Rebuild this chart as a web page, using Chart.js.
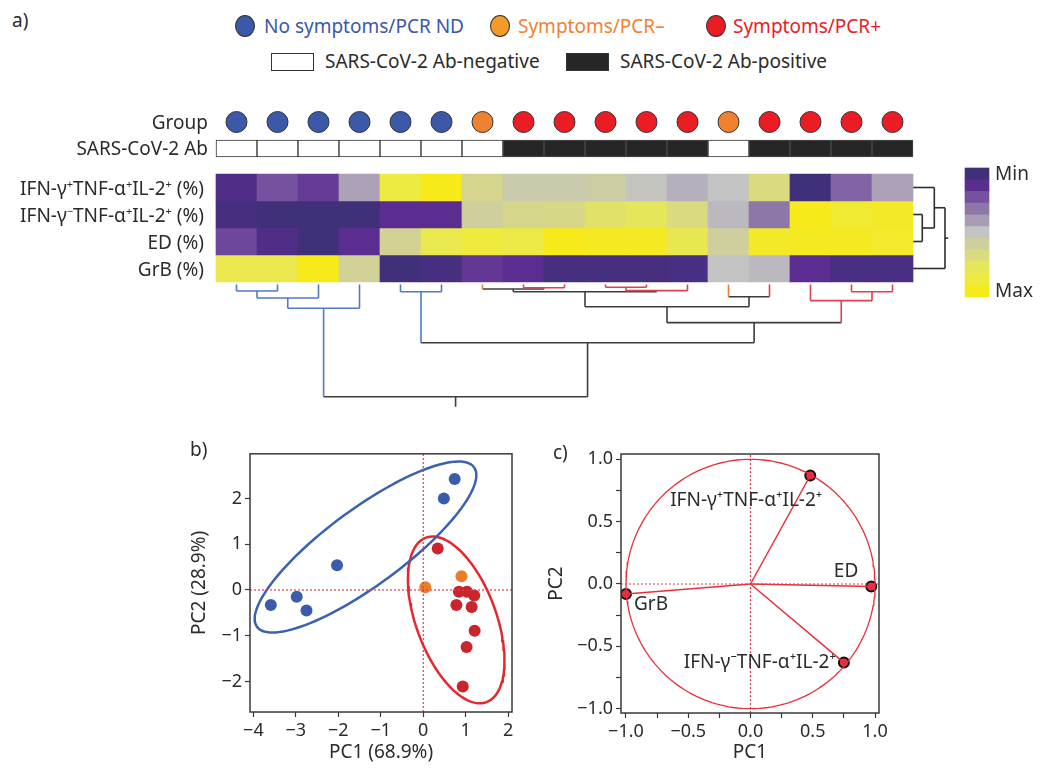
<!DOCTYPE html>
<html>
<head>
<meta charset="utf-8">
<script src="https://cdn.jsdelivr.net/npm/chart.js@4.4.1/dist/chart.umd.min.js"></script>
<style>
body { margin:0; background:#fff; width:1042px; height:769px; position:relative; overflow:hidden; font-family:'Noto Sans', sans-serif; color:#2b2b2b; }
canvas { position:absolute; }
.t { position:absolute; white-space:nowrap; font-size:19px; line-height:1; transform:translateY(-50%); }
.r { transform:translate(-100%,-50%); }
sup { font-size:11px; vertical-align:0; position:relative; top:-7px; }
.dot { position:absolute; width:20px; height:22px; border-radius:50%; border:1px solid #333; box-sizing:border-box; transform:translate(-50%,-50%); }
.box { position:absolute; border:1px solid #333; box-sizing:border-box; }
</style>
</head>
<body>
<canvas id="heat" width="1042" height="335" style="left:0;top:90px"></canvas>
<canvas id="pca" width="345" height="329" style="left:180px;top:440px"></canvas>
<canvas id="load" width="360" height="329" style="left:540px;top:440px"></canvas>

<div class="t" style="left:12px;top:20px">a)</div>
<div class="dot" style="left:245px;top:26px;background:#3c58a8"></div>
<div class="t" style="left:264px;top:26px;color:#3c58a8">No symptoms/PCR ND</div>
<div class="dot" style="left:500px;top:26px;background:#f39a2a"></div>
<div class="t" style="left:518px;top:26px;color:#f08232">Symptoms/PCR–</div>
<div class="dot" style="left:716px;top:26px;background:#ec1c24"></div>
<div class="t" style="left:733px;top:26px;color:#e8202a">Symptoms/PCR+</div>
<div class="box" style="left:271px;top:53px;width:43px;height:18px;background:#fff"></div>
<div class="t" style="left:325px;top:61px">SARS-CoV-2 Ab-negative</div>
<div class="box" style="left:566px;top:53px;width:43px;height:18px;background:#262626"></div>
<div class="t" style="left:620px;top:61px">SARS-CoV-2 Ab-positive</div>

<div class="t r" style="left:208px;top:122px">Group</div>
<div class="t r" style="left:208px;top:148px">SARS-CoV-2 Ab</div>
<div class="t r" style="left:204px;top:188px">IFN-γ<sup>+</sup>TNF-α<sup>+</sup>IL-2<sup>+</sup> (%)</div>
<div class="t r" style="left:204px;top:215px">IFN-γ<sup>−</sup>TNF-α<sup>+</sup>IL-2<sup>+</sup> (%)</div>
<div class="t r" style="left:204px;top:242px">ED (%)</div>
<div class="t r" style="left:204px;top:269px">GrB (%)</div>
<div class="t" style="left:995px;top:173px">Min</div>
<div class="t" style="left:995px;top:290px">Max</div>

<div class="t" style="left:190px;top:449px">b)</div>
<div class="t" style="left:553px;top:452px">c)</div>

<script>
// ---------- data ----------
// one entry per column of the heatmap, in dendrogram order
const groups = ['nd','nd','nd','nd','nd','nd','neg','pos','pos','pos','pos','pos','neg','pos','pos','pos','pos'];
const abPositive = [0,0,0,0,0,0,0,1,1,1,1,1,0,1,1,1,1];

// scaled levels, 0 = min, 10 = max
const ifnPosLevel = [0.6, 2, 1.4, 4.1, 8.9, 10, 6.5, 5.6, 5.6, 5.8, 5.1, 4.5, 5, 7, 0, 2.5, 4.1];
const ifnNegLevel = [0.2, 0, 0, 0, 1, 1, 6, 6.6, 6.7, 7.6, 8, 7, 4.7, 3, 10, 9.3, 9.6];
const edLevel     = [1.7, 0.6, 0, 1, 6.3, 8.4, 9, 8.7, 10, 9.8, 9.8, 8.3, 6, 9.6, 9.8, 9.8, 9.5];
const grbLevel    = [8.5, 8.5, 10, 6.2, 0, 0.2, 1.3, 1, 0.2, 0.2, 0.2, 0.3, 5, 4.7, 1, 0.3, 0.3];

// linkage [left, right, height]; ids >= leaf count point to earlier merges
const colMerges = [
  [0, 1, 0.058], [17, 2, 0.12], [18, 3, 0.212], [4, 5, 0.064],
  [7, 8, 0.029], [6, 21, 0.04], [9, 10, 0.025], [23, 11, 0.055],
  [22, 24, 0.064], [12, 13, 0.109], [25, 26, 0.198], [15, 16, 0.064],
  [14, 28, 0.144], [27, 29, 0.34], [20, 30, 0.519], [19, 31, 1.0]
];
const rowMerges = [[1, 2, 0.29], [0, 4, 0.666], [5, 3, 1.0]];

// PCA scores (PC1, PC2)
const pcaNd  = [[0.74, 2.43], [0.485, 2.0], [-2.03, 0.54], [-2.98, -0.15], [-2.75, -0.45], [-3.59, -0.33]];
const pcaNeg = [[0.05, 0.06], [0.9, 0.30]];
const pcaPos = [[0.34, 0.91], [0.84, -0.04], [1.03, -0.04], [1.2, -0.12], [0.78, -0.33], [1.14, -0.37], [1.21, -0.89], [1.02, -1.25], [0.93, -2.11]];
// group ellipses: centre and two conjugate semi-axes
const ellipseNd  = [[-1.36, 0.94], [2.553, 1.749], [0.544, -0.666]];
const ellipsePos = [[0.776, -0.655], [0.708, -1.801], [0.890, 0.294]];

// loadings
const loadNames = ['IFN-γ⁺TNF-α⁺IL-2⁺', 'ED', 'GrB', 'IFN-γ⁻TNF-α⁺IL-2⁺'];
const loadPC1 = [0.48, 0.97, -1.0, 0.75];
const loadPC2 = [0.87, -0.02, -0.08, -0.63];

// ---------- styles ----------
const palette = ['#40307a','#5b2d90','#7651a0','#8d76a8','#a99db6','#c3c3c3','#cfcf9e','#dada7e','#e6e65a','#eeea3e','#f7e91a'];
const groupFill = { nd: '#3c58a8', neg: '#ee8230', pos: '#ec1c24' };
const dendroColor = { nd: '#5179c4', neg: '#ee8030', pos: '#e0404c', mixed: '#3d3d3d' };
const pcaColor = { nd: '#3a5cab', neg: '#ea7d2c', pos: '#c9252c' };

Chart.defaults.font.family = "'Noto Sans', sans-serif";
Chart.defaults.color = '#2b2b2b';

function hex(c) { return [1, 3, 5].map(k => parseInt(c.substr(k, 2), 16)); }
function heatColor(v) {
  const i = Math.min(palette.length - 2, Math.floor(v)), f = v - i;
  const a = hex(palette[i]), b = hex(palette[i + 1]);
  return 'rgb(' + a.map((x, k) => Math.round(x + (b[k] - x) * f)).join(',') + ')';
}

// ---------- panel a ----------
const HEAT_LEFT = 216, CELL_W = 41, HEAT_TOP = 174, CELL_H = 27, CANVAS_TOP = 90;
const px2x = p => (p - HEAT_LEFT) / CELL_W;
const py2y = p => (p - HEAT_TOP) / CELL_H;
const nCol = groups.length;
const heatRows = [ifnPosLevel, ifnNegLevel, edLevel, grbLevel];

const aSets = [];
heatRows.forEach((row, r) => {
  aSets.push({
    type: 'bar', grouped: false, barPercentage: 1, categoryPercentage: 1, borderWidth: 0,
    data: row.map((v, i) => ({ x: i + 0.5, y: [r, r + 1] })),
    backgroundColor: row.map(heatColor)
  });
});
aSets.push({
  type: 'bar', grouped: false, barPercentage: 1, categoryPercentage: 1, borderSkipped: false, borderWidth: 1,
  data: abPositive.map((v, i) => ({ x: i + 0.5, y: [py2y(140), py2y(157)] })),
  backgroundColor: abPositive.map(v => v ? '#262626' : '#ffffff'),
  borderColor: abPositive.map(v => v ? '#4a4a4a' : '#333333')
});
aSets.push({
  type: 'scatter',
  data: groups.map((g, i) => ({ x: i + 0.5, y: py2y(122) })),
  pointRadius: 10.5, pointBackgroundColor: groups.map(g => groupFill[g]),
  pointBorderColor: '#333', pointBorderWidth: 1
});
// colour key
const keyTop = py2y(168), keyStep = (py2y(297) - py2y(168)) / palette.length;
aSets.push({
  type: 'bar', grouped: false, barThickness: 24, borderWidth: 0,
  data: palette.map((c, k) => ({ x: px2x(977), y: [keyTop + k * keyStep, keyTop + (k + 1) * keyStep] })),
  backgroundColor: palette
});

function seg(x0, y0, x1, y1, color) {
  aSets.push({ type: 'line', data: [{ x: x0, y: y0 }, { x: x1, y: y1 }], borderColor: color,
    borderWidth: 1.6, pointRadius: 0, fill: false, clip: false });
}

// column dendrogram below the heatmap
(function () {
  const pos = [], h = [], members = [];
  for (let i = 0; i < nCol; i++) { pos.push(i + 0.5); h.push(0); members.push([i]); }
  const base = py2y(284.5), k = 112.2 / CELL_H;
  const colorOf = id => {
    const gs = new Set(members[id].map(i => groups[i]));
    return gs.size === 1 ? dendroColor[[...gs][0]] : dendroColor.mixed;
  };
  colMerges.forEach(([a, b, height]) => {
    const id = pos.length;
    pos.push((pos[a] + pos[b]) / 2); h.push(height); members.push(members[a].concat(members[b]));
    const Y = base + height * k;
    seg(pos[a], base + h[a] * k, pos[a], Y, colorOf(a));
    seg(pos[b], base + h[b] * k, pos[b], Y, colorOf(b));
    seg(pos[a], Y, pos[b], Y, colorOf(id));
  });
  const root = pos.length - 1;
  seg(pos[root], base + h[root] * k, pos[root], base + (h[root] + 0.09) * k, dendroColor.mixed);
})();

// row dendrogram right of the heatmap
(function () {
  const pos = [0.5, 1.5, 2.5, 3.5], h = [0, 0, 0, 0];
  const base = nCol, k = 32 / CELL_W;
  rowMerges.forEach(([a, b, height]) => {
    pos.push((pos[a] + pos[b]) / 2); h.push(height);
    const X = base + height * k;
    seg(base + h[a] * k, pos[a], X, pos[a], '#2e2e2e');
    seg(base + h[b] * k, pos[b], X, pos[b], '#2e2e2e');
    seg(X, pos[a], X, pos[b], '#2e2e2e');
  });
  const root = pos.length - 1;
  seg(base + h[root] * k, pos[root], base + (h[root] + 0.1) * k, pos[root], '#2e2e2e');
})();

new Chart(document.getElementById('heat'), {
  type: 'bar',
  data: { datasets: aSets },
  options: {
    responsive: false, animation: false, events: [],
    layout: { padding: 0, autoPadding: false },
    plugins: { legend: { display: false }, tooltip: { enabled: false } },
    scales: {
      x: { type: 'linear', display: false, offset: false, grid: { offset: false }, min: px2x(0), max: px2x(1042) },
      y: { type: 'linear', display: false, reverse: true, beginAtZero: false, min: py2y(CANVAS_TOP), max: py2y(CANVAS_TOP + 335) }
    }
  }
});

// ---------- shared for b and c ----------
const framePlugin = {
  id: 'frame',
  afterDatasetsDraw(chart) {
    const { ctx, chartArea: a } = chart;
    ctx.save();
    ctx.strokeStyle = '#3a3a3a'; ctx.lineWidth = 1.5;
    ctx.strokeRect(a.left, a.top, a.right - a.left, a.bottom - a.top);
    ctx.restore();
  }
};
const minus = s => String(s).replace('-', '−');
function axis(min, max, step, size, isX, title, titlePad, fmt) {
  return {
    type: 'linear', min, max,
    afterFit: s => { if (isX) s.height = size; else s.width = size; },
    border: { display: false },
    grid: { drawOnChartArea: false, drawTicks: true, tickLength: 5, tickColor: '#3a3a3a', tickWidth: 1.2 },
    ticks: { stepSize: step, includeBounds: false, autoSkip: false, maxRotation: 0, padding: 3,
      font: { size: 18 }, color: '#2b2b2b', callback: fmt },
    title: { display: true, text: title, font: { size: 19 }, color: '#2b2b2b', padding: titlePad }
  };
}
const zeroLine = pts => ({ type: 'scatter', showLine: true, data: pts, borderColor: '#e8394a',
  borderWidth: 1.2, borderDash: [2, 2], pointRadius: 0 });
function ellipsePoints(e) {
  const [c, a, b] = e, pts = [];
  for (let i = 0; i <= 120; i++) {
    const t = i / 120 * 2 * Math.PI;
    pts.push({ x: c[0] + Math.cos(t) * a[0] + Math.sin(t) * b[0], y: c[1] + Math.cos(t) * a[1] + Math.sin(t) * b[1] });
  }
  return pts;
}
const toXY = arr => arr.map(p => ({ x: p[0], y: p[1] }));

// ---------- panel b ----------
const bX = [-4.08, 2.09], bY = [-2.67, 2.98];
new Chart(document.getElementById('pca'), {
  type: 'scatter',
  data: {
    datasets: [
      zeroLine([{ x: 0, y: bY[0] }, { x: 0, y: bY[1] }]),
      zeroLine([{ x: bX[0], y: 0 }, { x: bX[1], y: 0 }]),
      { showLine: true, data: ellipsePoints(ellipseNd), borderColor: '#3a62b0', borderWidth: 2.5, pointRadius: 0 },
      { showLine: true, data: ellipsePoints(ellipsePos), borderColor: '#e8262e', borderWidth: 2.5, pointRadius: 0 },
      { data: toXY(pcaNd), pointRadius: 6, pointBackgroundColor: pcaColor.nd, pointBorderWidth: 0 },
      { data: toXY(pcaNeg), pointRadius: 6, pointBackgroundColor: pcaColor.neg, pointBorderWidth: 0 },
      { data: toXY(pcaPos), pointRadius: 6, pointBackgroundColor: pcaColor.pos, pointBorderWidth: 0 }
    ]
  },
  options: {
    responsive: false, animation: false, events: [],
    layout: { padding: { top: 10, right: 13, left: 0, bottom: 0 }, autoPadding: false },
    plugins: { legend: { display: false }, tooltip: { enabled: false } },
    scales: {
      x: axis(bX[0], bX[1], 1, 57, true, 'PC1 (68.9%)', { top: 0, bottom: 5 }, v => minus(v)),
      y: axis(bY[0], bY[1], 1, 70, false, 'PC2 (28.9%)', { top: 8, bottom: 0 }, v => minus(v))
    }
  },
  plugins: [framePlugin]
});

// ---------- panel c ----------
const cX = [-1.04, 1.032], cY = [-1.0345, 1.0425];
const labelOffsets = [[12, 25, 'right'], [-13, -15, 'right'], [8, 11, 'left'], [-8, 0, 'right']];
const labelPlugin = {
  id: 'loadLabels',
  afterDatasetsDraw(chart) {
    const { ctx, scales: { x, y } } = chart;
    ctx.save();
    ctx.font = "19px 'Noto Sans', sans-serif"; ctx.fillStyle = '#2b2b2b'; ctx.textBaseline = 'middle';
    loadNames.forEach((name, i) => {
      const o = labelOffsets[i];
      ctx.textAlign = o[2];
      ctx.fillText(name, x.getPixelForValue(loadPC1[i]) + o[0], y.getPixelForValue(loadPC2[i]) + o[1]);
    });
    ctx.restore();
  }
};
const circlePts = [];
for (let i = 0; i <= 180; i++) { const t = i / 180 * 2 * Math.PI; circlePts.push({ x: Math.cos(t), y: Math.sin(t) }); }
const half = v => Math.abs(v * 2 - Math.round(v * 2)) < 1e-6 ? minus(v.toFixed(1)) : '';

new Chart(document.getElementById('load'), {
  type: 'scatter',
  data: {
    datasets: [
      zeroLine([{ x: 0, y: cY[0] }, { x: 0, y: cY[1] }]),
      zeroLine([{ x: cX[0], y: 0 }, { x: cX[1], y: 0 }]),
      { showLine: true, data: circlePts, borderColor: '#e8303c', borderWidth: 1.3, pointRadius: 0 },
      ...loadPC1.map((v, i) => ({ showLine: true, data: [{ x: 0, y: 0 }, { x: v, y: loadPC2[i] }],
        borderColor: '#e8303c', borderWidth: 1.5, pointRadius: 0 })),
      { data: loadPC1.map((v, i) => ({ x: v, y: loadPC2[i] })), pointRadius: 5,
        pointBackgroundColor: '#e23040', pointBorderColor: '#111', pointBorderWidth: 2 }
    ]
  },
  options: {
    responsive: false, animation: false, events: [],
    layout: { padding: { top: 14, right: 21, left: 0, bottom: 0 }, autoPadding: false },
    plugins: { legend: { display: false }, tooltip: { enabled: false } },
    scales: {
      x: axis(cX[0], cX[1], 0.25, 56, true, 'PC1', { top: 0, bottom: 5 }, half),
      y: axis(cY[0], cY[1], 0.25, 81, false, 'PC2', { top: 5, bottom: 0 }, half)
    }
  },
  plugins: [framePlugin, labelPlugin]
});
</script>
</body>
</html>
